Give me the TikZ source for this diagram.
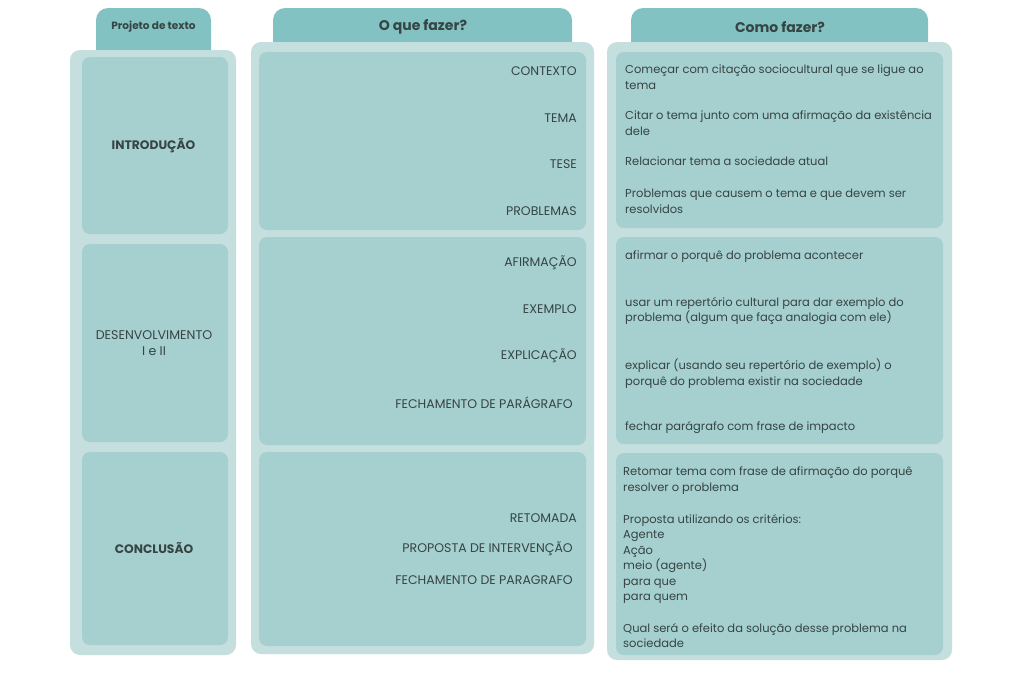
\documentclass[tikz,border=0pt]{standalone}
\usepackage{fontspec}
\setmainfont{Poppins}
\definecolor{tabc}{HTML}{82C2C2}
\definecolor{outc}{HTML}{C5DFDF}
\definecolor{innc}{HTML}{A6CFCF}
\definecolor{txtc}{HTML}{364444}
\begin{document}
\begin{tikzpicture}[x=1pt,y=-1pt,
  tabbox/.style={fill=tabc,rounded corners=12pt,inner sep=0pt},
  outbox/.style={fill=outc,rounded corners=10pt,inner sep=0pt},
  innbox/.style={fill=innc,rounded corners=8pt,inner sep=0pt},
  body/.style={text=txtc,inner sep=0pt,font=\fontsize{11.5}{15.5}\selectfont,align=left},
  lab/.style={text=txtc,inner sep=0pt,font=\fontsize{12.5}{15.5}\selectfont},
  head/.style={text=txtc,inner sep=0pt,font=\fontsize{14}{16}\selectfont\bfseries},
  sect/.style={text=txtc,inner sep=0pt,font=\fontsize{12.6}{16}\selectfont,align=center}
]
\useasboundingbox[fill=white] (0,0) rectangle (1024,678);
% column 1
\node[tabbox,minimum width=115pt,minimum height=54pt] (t1) at (153.5,35) {};
\node[outbox,minimum width=166pt,minimum height=605pt] (p1) at (153,352.5) {};
\node[innbox,minimum width=146pt,minimum height=177pt] (a1) at (155,145.5) {};
\node[innbox,minimum width=146pt,minimum height=198pt] (a2) at (155,343) {};
\node[innbox,minimum width=146pt,minimum height=193pt] (a3) at (155,548.5) {};
% column 2
\node[tabbox,minimum width=299pt,minimum height=47pt] (t2) at (422.5,31.5) {};
\node[outbox,minimum width=343pt,minimum height=612pt] (p2) at (422.5,348) {};
\node[innbox,minimum width=327pt,minimum height=178pt] (b1) at (422.5,141) {};
\node[innbox,minimum width=327pt,minimum height=208pt] (b2) at (422.5,341) {};
\node[innbox,minimum width=327pt,minimum height=194pt] (b3) at (422.5,549) {};
% column 3
\node[tabbox,minimum width=297pt,minimum height=47pt] (t3) at (779.5,31.5) {};
\node[outbox,minimum width=345pt,minimum height=618pt] (p3) at (779.5,351) {};
\node[innbox,minimum width=327pt,minimum height=176pt] (c1) at (779.5,140) {};
\node[innbox,minimum width=327pt,minimum height=207pt] (c2) at (779.5,340.5) {};
\node[innbox,minimum width=327pt,minimum height=202pt] (c3) at (779.5,554) {};
% headers
\node[text=txtc,inner sep=0pt,font=\fontsize{10.5}{12}\selectfont\bfseries] (h1) at (153.5,27) {Projeto de texto};
\node[head] (h2) at (423,27) {O que fazer?};
\node[head] (h3) at (780,27) {Como fazer?};
% column 1 labels
\node[sect,font=\fontsize{12.3}{16}\selectfont\bfseries] (s1) at (153.5,146) {INTRODUÇÃO};
\node[sect] (s2) at (154,343) {DESENVOLVIMENTO\\I e II};
\node[sect,font=\fontsize{12.3}{16}\selectfont\bfseries] (s3) at (154,548) {CONCLUSÃO};
% column 2 labels
\node[lab,anchor=east] (l1) at (577,71) {CONTEXTO};
\node[lab,anchor=east] (l2) at (577,118) {TEMA};
\node[lab,anchor=east] (l3) at (577,164) {TESE};
\node[lab,anchor=east] (l4) at (577,211) {PROBLEMAS};
\node[lab,anchor=east] (l5) at (577,263) {AFIRMAÇÃO};
\node[lab,anchor=east] (l6) at (577,309) {EXEMPLO};
\node[lab,anchor=east] (l7) at (577,356) {EXPLICAÇÃO};
\node[lab,anchor=east] (l8) at (573,403) {FECHAMENTO DE PARÁGRAFO};
\node[lab,anchor=east] (l9) at (577,518) {RETOMADA};
\node[lab,anchor=east] (l10) at (573,549) {PROPOSTA DE INTERVENÇÃO};
\node[lab,anchor=east] (l11) at (573,580) {FECHAMENTO DE PARAGRAFO};
% column 3 texts
\node[body,anchor=north west] (d1) at (625,65) {Começar com citação sociocultural que se ligue ao\\tema};
\node[body,anchor=north west] (d2) at (625,111) {Citar o tema junto com uma afirmação da existência\\dele};
\node[body,anchor=north west] (d3) at (625,157) {Relacionar tema a sociedade atual};
\node[body,anchor=north west] (d4) at (625,189) {Problemas que causem o tema e que devem ser\\resolvidos};
\node[body,anchor=north west] (d5) at (625,251) {afirmar o porquê do problema acontecer};
\node[body,anchor=north west] (d6) at (625,297) {usar um repertório cultural para dar exemplo do\\problema (algum que faça analogia com ele)};
\node[body,anchor=north west] (d7) at (625,359) {explicar (usando seu repertório de exemplo) o\\porquê do problema existir na sociedade};
\node[body,anchor=north west] (d8) at (625,421) {fechar parágrafo com frase de impacto};
\node[body,anchor=north west] (d9) at (623,467) {Retomar tema com frase de afirmação do porquê\\resolver o problema};
\node[body,anchor=north west] (d10) at (623,514) {Proposta utilizando os critérios:\\Agente\\Ação\\meio (agente)\\para que\\para quem};
\node[body,anchor=north west] (d11) at (623,623) {Qual será o efeito da solução desse problema na\\sociedade};
\end{tikzpicture}
\end{document}
